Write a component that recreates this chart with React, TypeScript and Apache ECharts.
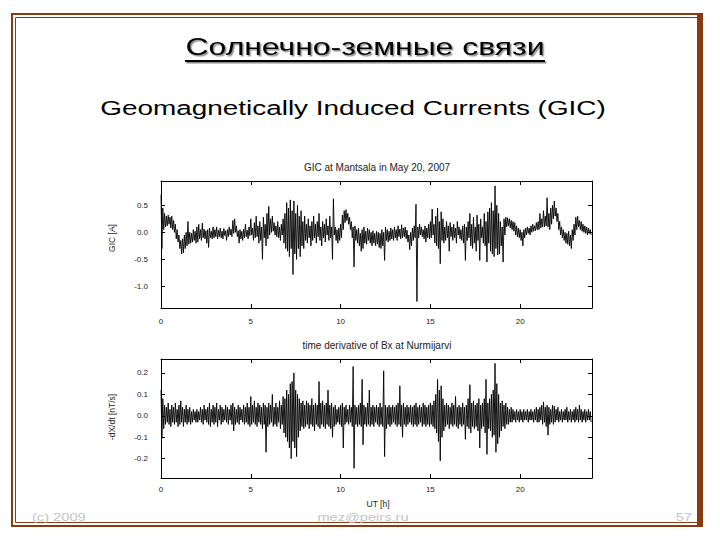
import React, { useEffect, useRef } from "react";
import * as echarts from "echarts";

// time resolution of the envelope arrays (hours per bin)
const TIME_STEP = 0.1;
const xTicks = [0, 5, 10, 15, 20];
const gicTicks = [-1.0, -0.5, 0.0, 0.5];
const dxTicks = [-0.2, -0.1, 0.0, 0.1, 0.2];

// GIC at Mantsala [A] — upper / lower envelope per 0.1 h bin (hours 0..24)
const gicHigh = [
  0.70, 0.45, 0.35, 0.30, 0.32, 0.28, 0.30, 0.22, 0.15, 0.05,
  -0.05, -0.15, -0.12, -0.05, 0.00, 0.20, 0.00, -0.02, 0.05, 0.02,
  0.10, 0.15, 0.05, 0.17, 0.06, 0.03, 0.05, 0.08, 0.02, 0.10,
  0.05, 0.10, 0.04, 0.08, 0.02, 0.07, 0.03, 0.05, 0.10, 0.06,
  0.22, 0.25, 0.12, 0.03, 0.05, 0.02, 0.06, 0.15, 0.04, 0.10,
  0.25, 0.08, 0.18, 0.30, 0.12, 0.20, 0.10, 0.28, 0.15, 0.35,
  0.48, 0.25, 0.30, 0.18, 0.12, 0.20, 0.10, 0.15, 0.25, 0.35,
  0.55, 0.45, 0.60, 0.40, 0.58, 0.35, 0.50, 0.30, 0.40, 0.20,
  0.30, 0.15, 0.25, 0.12, 0.20, 0.30, 0.15, 0.20, 0.35, 0.10,
  0.20, 0.15, 0.25, 0.12, 0.30, 0.10, 0.62, 0.10, 0.05, 0.08,
  0.15, 0.32, 0.40, 0.42, 0.35, 0.28, 0.20, 0.10, 0.12, 0.05,
  0.08, -0.02, 0.05, 0.10, 0.02, 0.08, 0.05, 0.00, 0.03, -0.02,
  0.02, 0.00, -0.02, 0.05, 0.00, 0.10, 0.05, 0.02, 0.08, 0.05,
  0.10, 0.05, 0.12, 0.06, 0.14, 0.08, 0.10, 0.04, -0.05, 0.00,
  0.08, 0.12, 0.52, 0.10, 0.15, 0.10, 0.05, 0.12, 0.08, 0.15,
  0.20, 0.43, 0.15, 0.30, 0.45, 0.20, 0.38, 0.25, 0.10, 0.20,
  0.12, 0.18, 0.10, 0.15, 0.08, 0.20, 0.10, 0.05, 0.12, 0.15,
  0.10, 0.20, 0.35, 0.15, 0.28, 0.10, 0.32, 0.15, 0.25, 0.10,
  0.35, 0.20, 0.38, 0.45, 0.55, 0.40, 0.86, 0.50, 0.35, 0.20,
  0.10, 0.25, 0.28, 0.27, 0.25, 0.22, 0.20, 0.18, 0.12, 0.08,
  0.05, 0.00, 0.05, 0.08, 0.10, 0.08, 0.12, 0.15, 0.12, 0.18,
  0.20, 0.35, 0.25, 0.40, 0.30, 0.64, 0.35, 0.45, 0.50, 0.58,
  0.45, 0.35, 0.20, 0.10, 0.05, 0.00, -0.02, 0.02, -0.05, 0.05,
  0.15, 0.28, 0.30, 0.22, 0.20, 0.15, 0.12, 0.10, 0.08, 0.05,
];
const gicLow = [
  -0.30, 0.05, 0.10, 0.12, 0.15, 0.08, 0.05, 0.00, -0.12, -0.18,
  -0.30, -0.40, -0.38, -0.30, -0.25, -0.22, -0.20, -0.18, -0.15, -0.20,
  -0.18, -0.12, -0.15, -0.10, -0.12, -0.20, -0.28, -0.10, -0.12, -0.10,
  -0.08, -0.12, -0.08, -0.10, -0.12, -0.06, -0.15, -0.08, -0.05, -0.08,
  -0.02, 0.00, -0.08, -0.20, -0.12, -0.15, -0.10, -0.08, -0.12, -0.06,
  -0.05, -0.15, -0.10, -0.08, -0.20, -0.15, -0.50, -0.10, -0.25, -0.12,
  -0.05, 0.00, 0.02, -0.05, -0.08, -0.10, -0.15, -0.05, -0.20, -0.30,
  -0.35, -0.45, -0.30, -0.78, -0.40, -0.50, -0.30, -0.45, -0.25, -0.30,
  -0.15, -0.20, -0.10, -0.25, -0.15, -0.10, -0.20, -0.08, -0.15, -0.25,
  -0.10, -0.18, -0.05, -0.15, -0.10, -0.50, -0.05, -0.15, -0.20, -0.15,
  -0.10, 0.05, 0.18, 0.22, 0.15, 0.05, -0.10, -0.64, -0.15, -0.20,
  -0.25, -0.35, -0.30, -0.20, -0.22, -0.15, -0.20, -0.25, -0.20, -0.25,
  -0.22, -0.28, -0.30, -0.25, -0.52, -0.15, -0.18, -0.15, -0.12, -0.15,
  -0.10, -0.15, -0.08, -0.12, -0.10, -0.08, -0.12, -0.18, -0.32, -0.25,
  -0.15, -0.10, -1.28, -0.10, -0.05, -0.08, -0.12, -0.18, -0.10, -0.12,
  -0.10, -0.05, -0.20, -0.25, -0.30, -0.58, -0.15, -0.20, -0.15, -0.10,
  -0.35, -0.08, -0.15, -0.10, -0.20, -0.05, -0.12, -0.15, -0.20, -0.52,
  -0.15, -0.10, -0.25, -0.30, -0.20, -0.35, -0.15, -0.52, -0.10, -0.20,
  -0.25, -0.55, -0.20, -0.35, -0.40, -0.45, -0.30, -0.42, -0.40, -0.25,
  -0.55, -0.05, 0.10, 0.12, 0.08, 0.05, 0.02, -0.05, -0.08, -0.10,
  -0.15, -0.25, -0.10, -0.05, -0.02, -0.05, 0.00, 0.02, 0.03, 0.05,
  0.05, 0.08, 0.10, 0.10, 0.12, 0.10, 0.05, 0.15, 0.25, 0.30,
  0.20, 0.05, -0.05, -0.10, -0.15, -0.20, -0.22, -0.25, -0.30, -0.15,
  -0.05, 0.05, 0.10, 0.05, 0.02, 0.00, -0.02, -0.05, -0.02, -0.05,
];

// time derivative of Bx at Nurmijarvi [nT/s] — upper / lower envelope per 0.1 h bin
const dxHigh = [
  0.12, 0.08, 0.05, 0.04, 0.06, 0.03, 0.05, 0.04, 0.06, 0.03,
  0.05, 0.07, 0.04, 0.03, 0.05, 0.03, 0.04, 0.02, 0.03, 0.02,
  0.03, 0.02, 0.04, 0.03, 0.05, 0.03, 0.04, 0.06, 0.03, 0.05,
  0.04, 0.06, 0.03, 0.05, 0.04, 0.03, 0.05, 0.04, 0.03, 0.05,
  0.06, 0.04, 0.03, 0.05, 0.04, 0.03, 0.05, 0.04, 0.06, 0.04,
  0.09, 0.05, 0.07, 0.04, 0.06, 0.05, 0.04, 0.06, 0.05, 0.04,
  0.06, 0.05, 0.10, 0.04, 0.06, 0.04, 0.07, 0.05, 0.09, 0.08,
  0.12, 0.10, 0.15, 0.16, 0.20, 0.12, 0.10, 0.08, 0.06, 0.07,
  0.05, 0.07, 0.06, 0.05, 0.08, 0.05, 0.06, 0.05, 0.16, 0.06,
  0.07, 0.05, 0.06, 0.12, 0.05, 0.06, 0.04, 0.05, 0.03, 0.04,
  0.05, 0.06, 0.04, 0.05, 0.03, 0.05, 0.04, 0.23, 0.05, 0.04,
  0.05, 0.06, 0.17, 0.05, 0.04, 0.06, 0.12, 0.04, 0.05, 0.04,
  0.05, 0.04, 0.06, 0.04, 0.21, 0.05, 0.04, 0.05, 0.04, 0.05,
  0.04, 0.05, 0.06, 0.14, 0.05, 0.06, 0.04, 0.05, 0.04, 0.05,
  0.04, 0.05, 0.06, 0.04, 0.05, 0.04, 0.06, 0.05, 0.04, 0.05,
  0.06, 0.05, 0.07, 0.10, 0.17, 0.12, 0.14, 0.08, 0.05, 0.06,
  0.05, 0.04, 0.06, 0.05, 0.09, 0.04, 0.05, 0.04, 0.06, 0.04,
  0.05, 0.08, 0.145, 0.06, 0.07, 0.05, 0.06, 0.08, 0.05, 0.06,
  0.08, 0.17, 0.06, 0.08, 0.10, 0.12, 0.245, 0.15, 0.10, 0.06,
  0.07, 0.05, 0.06, 0.04, 0.03, 0.04, 0.03, 0.02, 0.03, 0.02,
  0.03, 0.02, 0.03, 0.02, 0.03, 0.02, 0.03, 0.02, 0.03, 0.04,
  0.03, 0.04, 0.05, 0.065, 0.04, 0.05, 0.04, 0.03, 0.05, 0.045,
  0.03, 0.04, 0.02, 0.03, 0.02, 0.03, 0.04, 0.02, 0.03, 0.02,
  0.03, 0.04, 0.03, 0.05, 0.03, 0.02, 0.03, 0.02, 0.03, 0.02,
];
const dxLow = [
  -0.105, -0.06, -0.04, -0.03, -0.04, -0.05, -0.03, -0.04, -0.03, -0.05,
  -0.04, -0.03, -0.05, -0.03, -0.04, -0.03, -0.04, -0.03, -0.02, -0.03,
  -0.03, -0.02, -0.03, -0.04, -0.02, -0.03, -0.04, -0.05, -0.03, -0.04,
  -0.03, -0.05, -0.02, -0.04, -0.03, -0.02, -0.03, -0.04, -0.02, -0.04,
  -0.07, -0.04, -0.03, -0.04, -0.02, -0.03, -0.04, -0.03, -0.04, -0.05,
  -0.04, -0.03, -0.04, -0.05, -0.03, -0.04, -0.06, -0.04, -0.17, -0.05,
  -0.04, -0.03, -0.05, -0.04, -0.05, -0.03, -0.06, -0.04, -0.08, -0.10,
  -0.12, -0.15, -0.20, -0.12, -0.15, -0.19, -0.10, -0.07, -0.05, -0.06,
  -0.05, -0.04, -0.06, -0.04, -0.05, -0.07, -0.04, -0.05, -0.06, -0.04,
  -0.05, -0.06, -0.04, -0.05, -0.06, -0.10, -0.05, -0.04, -0.03, -0.04,
  -0.05, -0.15, -0.04, -0.03, -0.04, -0.03, -0.05, -0.245, -0.04, -0.05,
  -0.04, -0.05, -0.135, -0.04, -0.05, -0.04, -0.05, -0.04, -0.05, -0.03,
  -0.04, -0.05, -0.04, -0.05, -0.19, -0.06, -0.04, -0.05, -0.04, -0.03,
  -0.04, -0.05, -0.04, -0.05, -0.10, -0.04, -0.05, -0.04, -0.03, -0.04,
  -0.05, -0.04, -0.05, -0.04, -0.03, -0.05, -0.04, -0.05, -0.04, -0.05,
  -0.04, -0.05, -0.06, -0.08, -0.12, -0.21, -0.10, -0.07, -0.05, -0.04,
  -0.06, -0.04, -0.05, -0.04, -0.05, -0.06, -0.04, -0.05, -0.04, -0.11,
  -0.05, -0.06, -0.08, -0.05, -0.06, -0.05, -0.07, -0.15, -0.06, -0.05,
  -0.08, -0.18, -0.06, -0.07, -0.10, -0.09, -0.17, -0.13, -0.10, -0.07,
  -0.05, -0.06, -0.04, -0.04, -0.03, -0.03, -0.02, -0.03, -0.02, -0.03,
  -0.02, -0.03, -0.02, -0.02, -0.03, -0.02, -0.02, -0.03, -0.02, -0.03,
  -0.03, -0.02, -0.04, -0.03, -0.05, -0.09, -0.04, -0.03, -0.04, -0.03,
  -0.02, -0.03, -0.02, -0.03, -0.02, -0.02, -0.03, -0.02, -0.03, -0.02,
  -0.03, -0.02, -0.03, -0.02, -0.03, -0.02, -0.03, -0.02, -0.02, -0.03,
];

function envelopeLine(hi: number[], lo: number[]): number[][] {
  const pts: number[][] = [];
  for (let i = 0; i < hi.length; i++) {
    const t = i * TIME_STEP;
    pts.push([t, hi[i]]);
    pts.push([t + TIME_STEP / 2, lo[i]]);
  }
  return pts;
}

const FONT = "'Liberation Sans', Arial, Helvetica, sans-serif";
const BROWN = "#8a3a12";
const INK = "#000000";

function xAxes(gridIndex: number, labelMargin: number) {
  return [
    {
      gridIndex, type: "value", position: "bottom", min: 0, max: 24,
      axisLine: { show: true, onZero: false, lineStyle: { color: "#000", width: 1 } },
      axisTick: { show: true, inside: true, length: 4, customValues: xTicks, lineStyle: { color: "#000" } },
      axisLabel: { show: true, customValues: xTicks, fontSize: 8, color: "#222", fontFamily: FONT, margin: labelMargin },
      splitLine: { show: false },
    },
    {
      gridIndex, type: "value", position: "top", min: 0, max: 24,
      axisLine: { show: true, onZero: false, lineStyle: { color: "#000", width: 1 } },
      axisTick: { show: true, inside: true, length: 4, customValues: xTicks, lineStyle: { color: "#000" } },
      axisLabel: { show: false },
      splitLine: { show: false },
    },
  ];
}

function yAxes(gridIndex: number, min: number, max: number, ticks: number[]) {
  return [
    {
      gridIndex, type: "value", position: "left", min, max,
      axisLine: { show: true, onZero: false, lineStyle: { color: "#000", width: 1 } },
      axisTick: { show: true, inside: true, length: 4, customValues: ticks, lineStyle: { color: "#000" } },
      axisLabel: {
        show: true, customValues: ticks, fontSize: 8, color: "#222", fontFamily: FONT, margin: 13,
        formatter: (v: number) => v.toFixed(1),
      },
      splitLine: { show: false },
    },
    {
      gridIndex, type: "value", position: "right", min, max,
      axisLine: { show: true, onZero: false, lineStyle: { color: "#000", width: 1 } },
      axisTick: { show: true, inside: true, length: 4, customValues: ticks, lineStyle: { color: "#000" } },
      axisLabel: { show: false },
      splitLine: { show: false },
    },
  ];
}

function buildOption() {
  return {
    animation: false,
    backgroundColor: "#ffffff",
    grid: [
      { left: 161, top: 181, width: 431, height: 127 },
      { left: 161, top: 359, width: 431, height: 119 },
    ],
    xAxis: [...xAxes(0, 9), ...xAxes(1, 7)],
    yAxis: [...yAxes(0, -1.4, 0.95, gicTicks), ...yAxes(1, -0.29, 0.265, dxTicks)],
    series: [
      {
        type: "line", xAxisIndex: 0, yAxisIndex: 0, showSymbol: false, symbol: "none",
        data: envelopeLine(gicHigh, gicLow),
        lineStyle: { color: INK, width: 0.9 },
      },
      {
        type: "line", xAxisIndex: 2, yAxisIndex: 2, showSymbol: false, symbol: "none",
        data: envelopeLine(dxHigh, dxLow),
        lineStyle: { color: INK, width: 0.9 },
      },
    ],
    graphic: [
      // slide frame
      { type: "rect", silent: true, shape: { x: 12, y: 14, width: 690, height: 512 }, style: { fill: "none", stroke: BROWN, lineWidth: 2 } },
      { type: "rect", silent: true, shape: { x: 15.5, y: 17.5, width: 683, height: 505 }, style: { fill: "none", stroke: BROWN, lineWidth: 1 } },
      { type: "rect", silent: true, shape: { x: 697, y: 13, width: 6, height: 514 }, style: { fill: BROWN } },
      // slide title
      {
        type: "text", x: 365, y: 47, scaleX: 1.33, silent: true,
        style: {
          text: "Солнечно-земные связи", fontSize: 24, fontFamily: FONT, fill: "#000",
          textAlign: "center", textVerticalAlign: "middle",
          textShadowColor: "rgba(0,0,0,0.45)", textShadowOffsetX: 1.5, textShadowOffsetY: 1.5, textShadowBlur: 1,
        },
      },
      { type: "line", silent: true, shape: { x1: 186.5, y1: 62.5, x2: 546.5, y2: 62.5 }, style: { stroke: "#8a8a8a", lineWidth: 2 } },
      { type: "line", silent: true, shape: { x1: 185, y1: 61, x2: 545, y2: 61 }, style: { stroke: "#000", lineWidth: 2 } },
      // subtitle
      {
        type: "text", x: 353, y: 108, scaleX: 1.33, silent: true,
        style: { text: "Geomagnetically Induced Currents (GIC)", fontSize: 21, fontFamily: FONT, fill: "#000", textAlign: "center", textVerticalAlign: "middle" },
      },
      // plot titles and axis names
      { type: "text", x: 377, y: 167, silent: true, style: { text: "GIC at Mantsala in May 20, 2007", fontSize: 10, fontFamily: FONT, fill: "#222", textAlign: "center", textVerticalAlign: "middle" } },
      { type: "text", x: 377, y: 345, silent: true, style: { text: "time derivative of Bx at Nurmijarvi", fontSize: 10, fontFamily: FONT, fill: "#222", textAlign: "center", textVerticalAlign: "middle" } },
      { type: "text", x: 112, y: 238, rotation: Math.PI / 2, silent: true, style: { text: "GIC [A]", fontSize: 8.5, fontFamily: FONT, fill: "#222", textAlign: "center", textVerticalAlign: "middle" } },
      { type: "text", x: 112, y: 417, rotation: Math.PI / 2, silent: true, style: { text: "-dX/dt [nT/s]", fontSize: 8.5, fontFamily: FONT, fill: "#222", textAlign: "center", textVerticalAlign: "middle" } },
      { type: "text", x: 378, y: 504, silent: true, style: { text: "UT [h]", fontSize: 8.5, fontFamily: FONT, fill: "#222", textAlign: "center", textVerticalAlign: "middle" } },
      // footer
      { type: "text", x: 32, y: 517, scaleX: 1.33, silent: true, style: { text: "(c) 2009", fontSize: 11, fontFamily: FONT, fill: "#c4c4c4", textAlign: "left", textVerticalAlign: "middle" } },
      { type: "text", x: 363, y: 517, scaleX: 1.33, silent: true, style: { text: "mez@peirs.ru", fontSize: 11, fontFamily: FONT, fill: "#c4c4c4", textAlign: "center", textVerticalAlign: "middle" } },
      { type: "text", x: 692, y: 517, scaleX: 1.33, silent: true, style: { text: "57", fontSize: 11, fontFamily: FONT, fill: "#c4c4c4", textAlign: "right", textVerticalAlign: "middle" } },
    ],
  };
}

export default function App() {
  const ref = useRef<HTMLDivElement>(null);
  useEffect(() => {
    if (!ref.current) return;
    const chart = echarts.init(ref.current, null, { renderer: "svg" });
    chart.setOption(buildOption() as any);
    return () => chart.dispose();
  }, []);
  return (
    <div
      ref={ref}
      style={{ position: "fixed", left: 0, top: 0, width: 720, height: 540, background: "#fff" }}
    />
  );
}
